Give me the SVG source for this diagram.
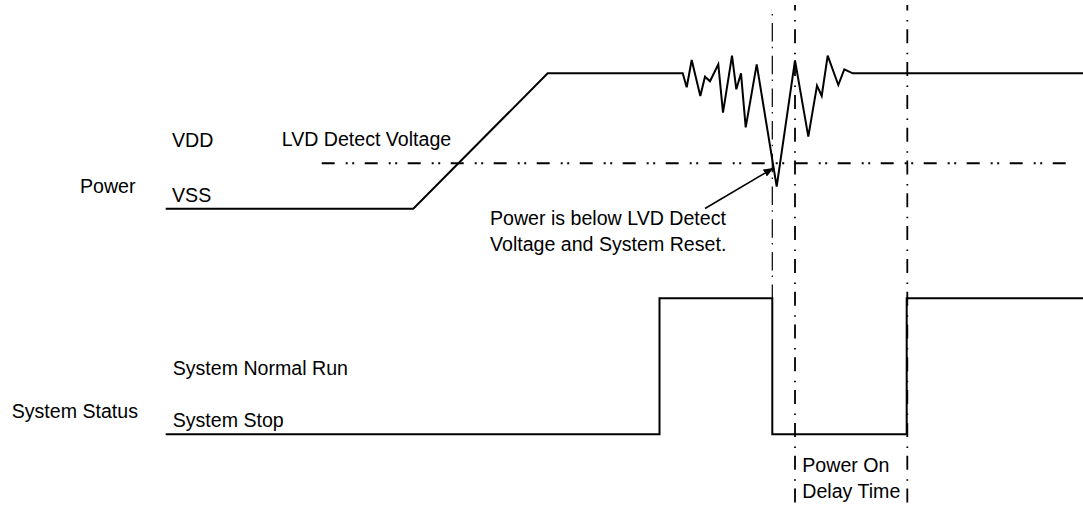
<svg xmlns="http://www.w3.org/2000/svg" width="1083" height="506" viewBox="0 0 1083 506">
<style>
text{font-family:"Liberation Sans",Arial,sans-serif;font-size:19.6px;fill:#000}
.w{fill:none;stroke:#000;stroke-width:2;stroke-linejoin:miter}
.lvd{fill:none;stroke:#000;stroke-width:2;stroke-dasharray:13 11 2 4.5 2 10.5}
.va{fill:none;stroke:#000;stroke-width:1.2;stroke-dasharray:1.5 7.5 18.5 5.2}
.vb{fill:none;stroke:#000;stroke-width:1.8;stroke-dasharray:14 9.5 1.5 7.8;stroke-dashoffset:8.5}
</style>
<defs>
<marker id="ah" viewBox="0 0 10 8" refX="10" refY="4" markerWidth="10" markerHeight="8" markerUnits="userSpaceOnUse" orient="auto">
<path d="M0,0 L10,4 L0,8 Z" fill="#000"/>
</marker>
</defs>
<rect width="1083" height="506" fill="#fff"/>
<g id="labels">
<text x="80" y="192.7">Power</text>
<text x="172" y="146.5">VDD</text>
<text x="172" y="202">VSS</text>
<text x="281.7" y="145.7">LVD Detect Voltage</text>
<text x="11.7" y="418.3">System Status</text>
<text x="172.7" y="375">System Normal Run</text>
<text x="172.7" y="427.3">System Stop</text>
<text x="490" y="225">Power is below LVD Detect</text>
<text x="490" y="250.7">Voltage and System Reset.</text>
<text x="802.3" y="471.7">Power On</text>
<text x="802.3" y="498.3">Delay Time</text>
</g>
<g id="guides">
<line class="lvd" x1="321.7" y1="163.3" x2="1076" y2="163.3"/>
<line class="va" x1="772.3" y1="14" x2="772.3" y2="298"/>
<line class="vb" x1="795" y1="5" x2="795" y2="506"/>
<line class="vb" x1="907.3" y1="5" x2="907.3" y2="506"/>
</g>
<g id="power-waveform">
<polyline class="w" points="165.7,208.7 413.3,208.7 547.7,73.3 682.7,73.3 686.7,87.3 691.7,60 700.3,96 705,76.7 710,81.3 718.3,64.3 723,112.7 732,55.7 736.3,89.3 741,73.3 745.7,127.3 756.7,64.3 776.7,186.7 795,60.3 808.3,136.7 817,85.7 821.7,96 827.7,55.7 838.3,85 844.3,69.3 852.7,73.3 1083,73.3"/>
</g>
<g id="status-waveform">
<polyline class="w" points="165.7,434.3 659.5,434.3 659.5,298.3 772.3,298.3 772.3,434.3 906.7,434.3 906.7,298.3 1083,298.3"/>
</g>
<g id="connectors">
<line x1="705" y1="208.5" x2="773.5" y2="168" stroke="#000" stroke-width="1.5" marker-end="url(#ah)"/>
</g>
</svg>
